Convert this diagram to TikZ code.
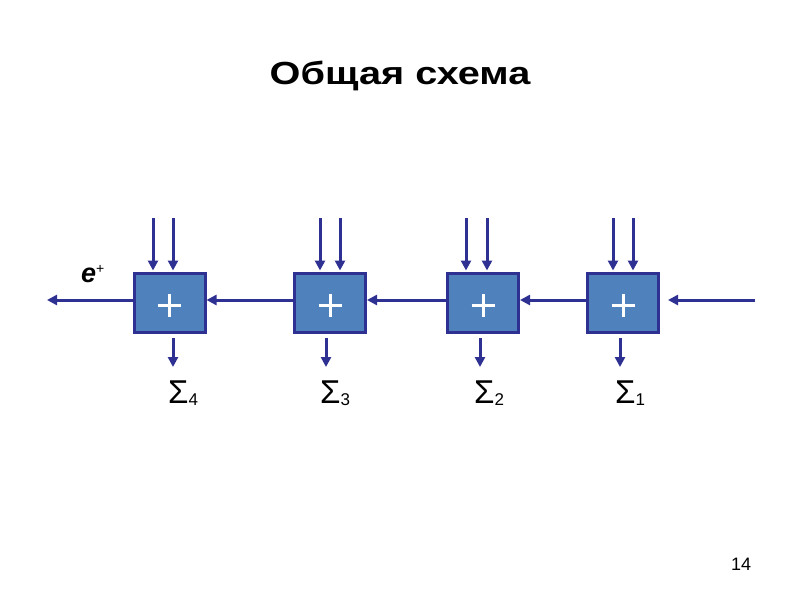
\documentclass[tikz,border=0pt]{standalone}
\usepackage{fontspec}
\setmainfont{Liberation Sans}
\usetikzlibrary{arrows.meta}
\definecolor{navy}{RGB}{46,49,146}
\definecolor{boxblue}{RGB}{79,129,189}
\tikzset{
  plusbox/.style={draw=navy, fill=boxblue, line width=3pt, minimum width=71pt, minimum height=59pt, inner sep=0pt,
    path picture={\draw[white,line width=3pt] ([yshift=-2pt]path picture bounding box.center) +(-11.5pt,0) -- +(11.5pt,0) +(0,-11.5pt) -- +(0,11.5pt);}},
  arr/.style={draw=navy, line width=3pt, -{Triangle[length=10pt,width=10pt]}},
  sig/.style={anchor=base west, inner sep=0pt, font=\fontsize{33}{33}\selectfont},
}
\newcommand{\sigsub}[1]{\fontsize{17}{17}\selectfont\raisebox{-2pt}{#1}}
\begin{document}
\begin{tikzpicture}[x=1pt,y=-1pt]
\useasboundingbox (0,0) rectangle (800,600);
% title
\node[anchor=base, inner sep=0pt, font=\fontsize{32}{32}\selectfont\bfseries] (title) at (400,84) {\scalebox{1.24}[1]{Общая схема}};
% boxes
\node[plusbox] (b1) at (169.5,303) {};
\node[plusbox] (b2) at (330,303) {};
\node[plusbox] (b3) at (483,303) {};
\node[plusbox] (b4) at (623,303) {};
% horizontal chain
\coordinate (outL) at (47,300);
\coordinate (inR) at (755,300);
\coordinate (inRtip) at (668,300);
\draw[arr] ([yshift=3pt]b1.west) -- (outL);
\draw[arr] ([yshift=3pt]b2.west) -- ([yshift=3pt]b1.east);
\draw[arr] ([yshift=3pt]b3.west) -- ([yshift=3pt]b2.east);
\draw[arr] ([yshift=3pt]b4.west) -- ([yshift=3pt]b3.east);
\draw[arr] (inR) -- (inRtip);
% top inputs
\coordinate (t1a) at (153,218); \coordinate (t1b) at (173,218);
\coordinate (t2a) at (320,218); \coordinate (t2b) at (340,218);
\coordinate (t3a) at (466,218); \coordinate (t3b) at (487,218);
\coordinate (t4a) at (613,218); \coordinate (t4b) at (633,218);
\foreach \b/\c in {b1/t1a,b1/t1b,b2/t2a,b2/t2b,b3/t3a,b3/t3b,b4/t4a,b4/t4b}
  \draw[arr] (\c) -- ([yshift=1.5pt]\c |- \b.north);
% bottom outputs
\coordinate (o1) at (173,367);
\coordinate (o2) at (326,367);
\coordinate (o3) at (480,367);
\coordinate (o4) at (620,367);
\foreach \b/\c in {b1/o1,b2/o2,b3/o3,b4/o4}
  \draw[arr] ([yshift=-4pt]\c |- \b.south) -- (\c);
% sums
\node[sig] (s4) at (168,403) {Σ\sigsub{4}};
\node[sig] (s3) at (320,403) {Σ\sigsub{3}};
\node[sig] (s2) at (474,403) {Σ\sigsub{2}};
\node[sig] (s1) at (615,403) {Σ\sigsub{1}};
% e+
\node[anchor=base west, inner sep=0pt] (ep) at (81,282) {\fontsize{27}{27}\selectfont\bfseries\itshape e\fontsize{14}{14}\selectfont\upshape\mdseries\raisebox{9pt}{+}};
% page number
\node[anchor=base, inner sep=0pt, font=\fontsize{18}{18}\selectfont] (pg) at (741,570) {14};
\end{tikzpicture}
\end{document}
